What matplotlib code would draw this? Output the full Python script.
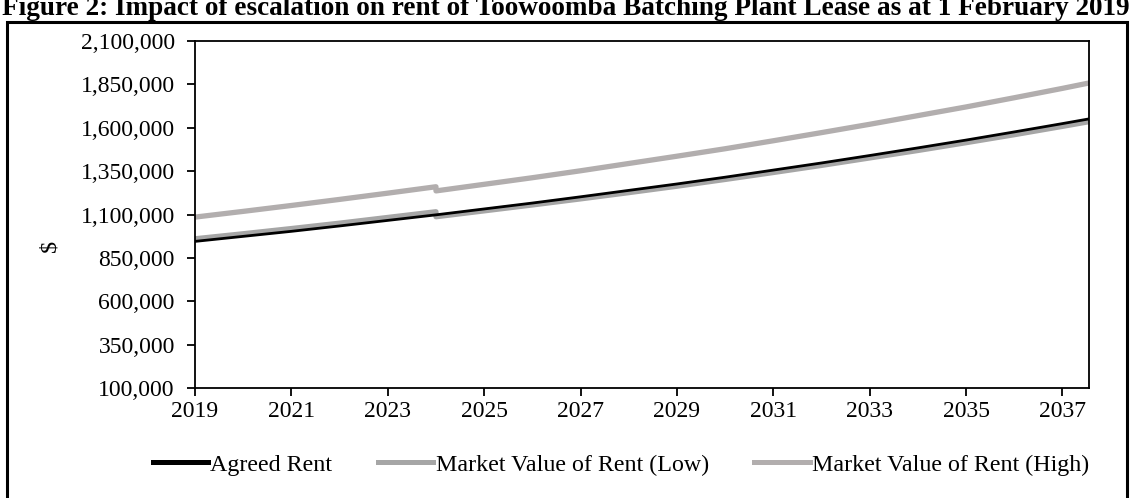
import matplotlib
matplotlib.use('Agg')

import matplotlib.pyplot as plt
from matplotlib.patches import Rectangle
from matplotlib.lines import Line2D

# -----------------------------
# DATA
# -----------------------------
# 2024 appears twice: value before and after the market review
years = [2019, 2020, 2021, 2022, 2023, 2024, 2024, 2025, 2026, 2027, 2028,
         2029, 2030, 2031, 2032, 2033, 2034, 2035, 2036, 2037, 2037.55]

agreed_rent = [945000, 974000, 1003000, 1034000, 1066000, 1098000, 1098000,
               1132000, 1166000, 1202000, 1239000, 1276000, 1315000, 1356000,
               1397000, 1440000, 1484000, 1529000, 1576000, 1624000, 1651000]

market_low = [960000, 989000, 1019000, 1050000, 1083000, 1116000, 1087000,
              1121000, 1155000, 1190000, 1226000, 1263000, 1302000, 1342000,
              1383000, 1426000, 1469000, 1514000, 1560000, 1608000, 1635000]

market_high = [1085000, 1118000, 1152000, 1187000, 1223000, 1260000, 1236000,
               1274000, 1312000, 1352000, 1394000, 1436000, 1479000, 1525000,
               1572000, 1620000, 1670000, 1720000, 1773000, 1827000, 1858000]

x_ticks = [2019, 2021, 2023, 2025, 2027, 2029, 2031, 2033, 2035, 2037]
y_ticks = [100000, 350000, 600000, 850000, 1100000, 1350000, 1600000,
           1850000, 2100000]

series_names = ['Agreed Rent', 'Market Value of Rent (Low)',
                'Market Value of Rent (High)']
series_colors = ['black', '#A6A6A6', '#B2AEAE']

title = "Figure 2: Impact of escalation on rent of Toowoomba Batching Plant Lease as at 1 February 2019"

# -----------------------------
# FIGURE
# -----------------------------
W, H = 1131, 498
plt.rcParams['font.family'] = ['Liberation Serif', 'DejaVu Serif']

fig = plt.figure(figsize=(W / 100, H / 100), dpi=100)
ax = fig.add_axes([195 / W, 1 - 388 / H, (1089 - 195) / W, (388 - 41) / H])

# outer frame of the figure box
fig.patches.append(Rectangle((7 / W, -0.1), (1127 - 7) / W, 1.1 - 22 / H,
                             transform=fig.transFigure, fill=False,
                             edgecolor='black', linewidth=2.2))

# title is partly cut off at the top in the reference
fig.text(566 / W, 1 - 15 / H, title, ha='center', va='baseline',
         fontsize=19.6, fontweight='bold')

# -----------------------------
# LINES
# -----------------------------
ax.plot(years, market_low, color=series_colors[1], linewidth=3.8, zorder=2)
ax.plot(years, market_high, color=series_colors[2], linewidth=3.8, zorder=2)
ax.plot(years, agreed_rent, color=series_colors[0], linewidth=2.0, zorder=3)

ax.set_xlim(2019, 2037.55)
ax.set_ylim(100000, 2100000)
ax.set_xticks(x_ticks)
ax.set_yticks(y_ticks)
ax.set_yticklabels([f"{v:,}" for v in y_ticks])
ax.tick_params(labelsize=17, direction='out', length=6, width=1.3,
               colors='black')
ax.tick_params(axis='y', pad=8.5)
for s in ax.spines.values():
    s.set_linewidth(1.3)
    s.set_color('black')
ax.set_ylabel('$', fontsize=17.5)
ax.yaxis.set_label_coords(-0.151, 0.41)

# -----------------------------
# LEGEND
# -----------------------------
handles = [Line2D([], [], color=c, linewidth=3.6) for c in series_colors]
fig.legend(handles, series_names,
           loc='center', bbox_to_anchor=(621 / W, 1 - 465 / H), ncol=3,
           frameon=False, fontsize=17.3, handlelength=2.3, handletextpad=0.1,
           columnspacing=1.9)

fig.savefig('out.png', dpi=100)
plt.close(fig)
